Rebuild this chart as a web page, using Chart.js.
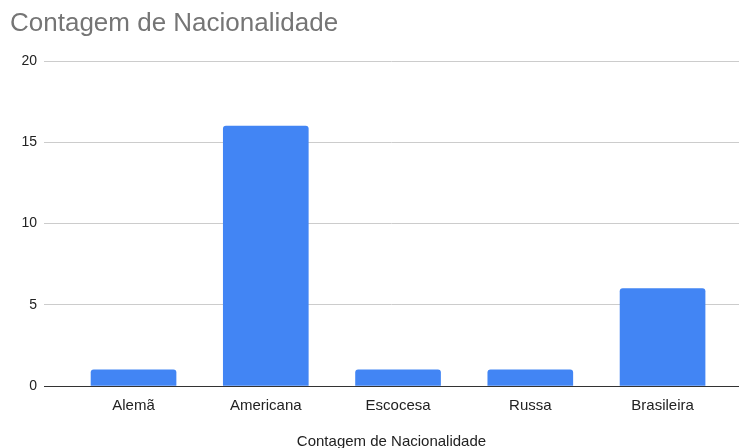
<!DOCTYPE html>
<html>
<head>
<meta charset="utf-8">
<script src="https://cdn.jsdelivr.net/npm/chart.js"></script>
<style>
  html, body { margin: 0; padding: 0; background: #fff; }
  #wrap { width: 739px; height: 448px; }
</style>
</head>
<body>
<div id="wrap"><canvas id="grafico"></canvas></div>
<script>
// dados
var categorias = ['Alemã', 'Americana', 'Escocesa', 'Russa', 'Brasileira'];
var contagem = [1, 16, 1, 1, 6];
var yTicks = [0, 5, 10, 15, 20];

var pontos = categorias.map(function (c, i) { return { x: i, y: contagem[i] }; });

var fonte = 'Arial, "Liberation Sans", sans-serif';

new Chart(document.getElementById('grafico').getContext('2d'), {
  type: 'bar',
  data: {
    datasets: [{
      label: 'Contagem de Nacionalidade',
      data: pontos,
      backgroundColor: '#4285F4',
      borderRadius: 3,
      barThickness: 85
    }]
  },
  options: {
    responsive: true,
    maintainAspectRatio: false,
    animation: false,
    layout: { padding: { left: 10, right: 0, bottom: 0, top: 0 } },
    plugins: {
      legend: { display: false },
      tooltip: { enabled: false },
      title: {
        display: true,
        text: 'Contagem de Nacionalidade',
        align: 'start',
        color: '#757575',
        font: { family: fonte, size: 26, weight: 'normal' },
        padding: { top: 8, bottom: 22 }
      }
    },
    scales: {
      x: {
        type: 'linear',
        offset: false,
        min: -0.677,
        max: 4.578,
        afterBuildTicks: function (s) {
          s.ticks = categorias.map(function (c, i) { return { value: i }; });
        },
        afterFit: function (s) { s.height = 62; },
        grid: { display: false },
        border: { display: true, color: '#333', width: 1 },
        ticks: {
          color: '#222',
          font: { family: fonte, size: 15 },
          padding: 3,
          maxRotation: 0,
          autoSkip: false,
          callback: function (v) { return categorias[v]; }
        },
        title: {
          display: true,
          text: 'Contagem de Nacionalidade',
          color: '#222',
          font: { family: fonte, size: 15 },
          padding: { top: 14, bottom: -3 }
        }
      },
      y: {
        min: 0,
        max: 20,
        afterBuildTicks: function (s) {
          s.ticks = yTicks.map(function (v) { return { value: v }; });
        },
        afterFit: function (s) { s.width = 34; },
        grid: { color: '#cccccc', drawTicks: false },
        border: { display: false },
        ticks: {
          color: '#222',
          font: { family: fonte, size: 14 },
          padding: 7
        }
      }
    }
  }
});
</script>
</body>
</html>
